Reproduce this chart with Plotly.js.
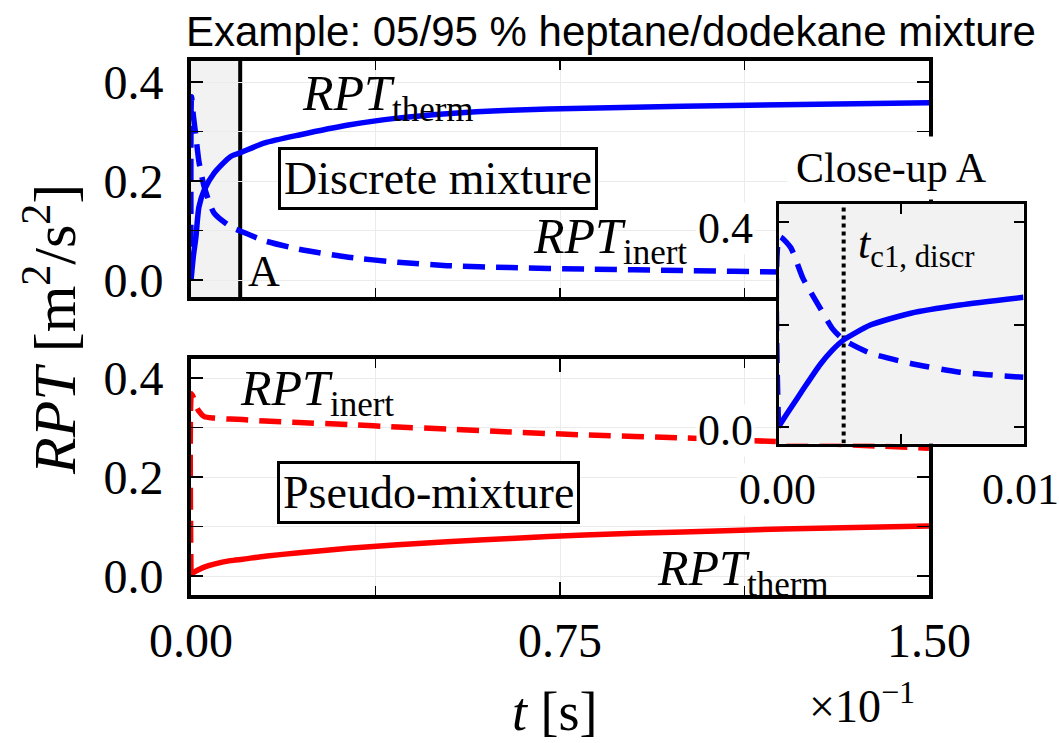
<!DOCTYPE html>
<html>
<head>
<meta charset="utf-8">
<script src="https://cdn.plot.ly/plotly-3.0.1.min.js"></script>
<style>html,body{margin:0;padding:0;background:#fff;}#chart{width:1059px;height:743px;}</style>
</head>
<body>
<div id="chart"></div>
<script>
// ---------------- data ----------------
const timeMain = [0, 0.001, 0.005, 0.01, 0.016, 0.027, 0.047, 0.08, 0.105, 0.15, 0.22, 0.32, 0.42, 0.52, 0.65, 0.8, 1.0, 1.2, 1.5];
const discreteTherm = [0, 0.01, 0.05, 0.087, 0.147, 0.182, 0.216, 0.249, 0.259, 0.277, 0.293, 0.313, 0.327, 0.336, 0.343, 0.347, 0.351, 0.354, 0.358];
const discreteInert = [0, 0.37, 0.33, 0.29, 0.24, 0.188, 0.135, 0.108, 0.097, 0.079, 0.062, 0.046, 0.036, 0.029, 0.025, 0.022, 0.019, 0.016, 0.013];
const pseudoTherm = [0, 0.003, 0.007, 0.010, 0.013, 0.018, 0.024, 0.031, 0.034, 0.040, 0.047, 0.056, 0.063, 0.069, 0.076, 0.083, 0.089, 0.095, 0.101];
const pseudoInert = [0, 0.368, 0.36, 0.345, 0.333, 0.322, 0.319, 0.317, 0.316, 0.313, 0.310, 0.306, 0.301, 0.297, 0.291, 0.285, 0.279, 0.271, 0.258];

const timeInset = [0, 0.00005, 0.0005, 0.001, 0.0017, 0.0022, 0.00266, 0.00375, 0.0054, 0.0074, 0.01];
const insetInert = [0, 0.371, 0.35, 0.29, 0.232, 0.192, 0.170, 0.144, 0.124, 0.107, 0.097];
const insetTherm = [0, 0.004, 0.037, 0.073, 0.122, 0.150, 0.170, 0.199, 0.222, 0.238, 0.253];

const closeUpEnd = 0.1;      // end of shaded region "A" [s]
const tc1Discr = 0.00266;    // t_c1,discr in close-up units

const xTickLabels = ['0.00', '0.75', '1.50'];
const xTickValues = [0, 0.75, 1.5];

// ---------------- layout helpers ----------------
const W = 1059, H = 743;
const fx = p => p / W;
const fy = p => 1 - p / H;
const SERIF = 'Liberation Serif, Times New Roman, serif';
const SANS = 'Liberation Sans, Arial, sans-serif';
const BLUE = '#0000ff', RED = '#ff0000';
const GRID = '#ebebeb';

const topY = [-(297 - 280) / 495, (280 - 61) / 495];
const botY = [-(595 - 576) / 495, (576 - 359) / 495];
const insY = [-(443.5 - 427) / 512.5, (427 - 203.5) / 512.5];

function mainX(anchor, labels) {
  return {
    domain: [fx(191), fx(929)], anchor: anchor, range: [0, 1.5],
    tickmode: 'array', tickvals: xTickValues, ticktext: labels ? xTickLabels : ['', '', ''],
    showticklabels: !!labels,
    ticks: 'inside', ticklen: 13, tickwidth: 2, tickcolor: '#000',
    minor: {dtick: 0.375, tick0: 0, ticks: 'inside', ticklen: 9, tickwidth: 1.5, tickcolor: '#000', showgrid: true, gridcolor: GRID, gridwidth: 1},
    showgrid: true, gridcolor: GRID, gridwidth: 1,
    showline: true, linecolor: '#000', linewidth: 4, mirror: 'allticks',
    zeroline: false,
    tickfont: {family: SERIF, size: 48, color: '#000'},
    ticklabelstandoff: 0
  };
}
function mainY(anchor, dom, rng) {
  return {
    domain: dom, anchor: anchor, range: rng,
    tickmode: 'linear', tick0: 0, dtick: 0.2, tickformat: '.1f',
    ticks: 'inside', ticklen: 12, tickwidth: 2, tickcolor: '#000',
    minor: {dtick: 0.1, tick0: 0, ticks: 'inside', ticklen: 12, tickwidth: 1.5, tickcolor: '#000', showgrid: true, gridcolor: GRID, gridwidth: 1},
    showgrid: true, gridcolor: GRID, gridwidth: 1,
    showline: true, linecolor: '#000', linewidth: 4, mirror: 'allticks',
    zeroline: false,
    tickfont: {family: SERIF, size: 48, color: '#000'},
    ticklabelstandoff: 14
  };
}

const SM = 0.6;
const traces = [
  {x: timeMain, y: discreteTherm, xaxis: 'x', yaxis: 'y', mode: 'lines', line: {color: BLUE, width: 5.5, shape: 'spline', smoothing: SM}, name: 'RPT therm (discrete)'},
  {x: timeMain, y: discreteInert, xaxis: 'x', yaxis: 'y', mode: 'lines', line: {color: BLUE, width: 5.5, dash: '22px,11px', shape: 'spline', smoothing: SM}, name: 'RPT inert (discrete)'},
  {x: timeMain, y: pseudoTherm, xaxis: 'x2', yaxis: 'y2', mode: 'lines', line: {color: RED, width: 5.5, shape: 'spline', smoothing: SM}, name: 'RPT therm (pseudo)'},
  {x: timeMain, y: pseudoInert, xaxis: 'x2', yaxis: 'y2', mode: 'lines', line: {color: RED, width: 5.5, dash: '22px,11px', shape: 'spline', smoothing: SM}, name: 'RPT inert (pseudo)'},
  {x: timeInset, y: insetTherm, xaxis: 'x3', yaxis: 'y3', mode: 'lines', line: {color: BLUE, width: 5.5, shape: 'spline', smoothing: SM}, name: 'close-up therm'},
  {x: timeInset, y: insetInert, xaxis: 'x3', yaxis: 'y3', mode: 'lines', line: {color: BLUE, width: 5.5, dash: '20px,12px', shape: 'spline', smoothing: SM}, name: 'close-up inert'}
];

function ann(text, x, y, size, opts) {
  return Object.assign({
    text: text, x: fx(x), y: fy(y), xref: 'paper', yref: 'paper',
    showarrow: false, xanchor: 'center', yanchor: 'middle',
    font: {family: SERIF, size: size, color: '#000'}
  }, opts || {});
}

const annotations = [
  ann('Example: 05/95 % heptane/dodekane mixture', 611, 31, 42, {font: {family: SANS, size: 42, color: '#000'}}),
  ann('<i>RPT</i><sub>therm</sub>', 300, 97, 50, {xanchor: 'left'}),
  ann('Discrete mixture', 438, 179, 46, {bgcolor: '#fff', bordercolor: '#000', borderwidth: 3, borderpad: 3}),
  ann('<i>RPT</i><sub>inert</sub>', 531, 240, 50, {xanchor: 'left'}),
  ann('A', 264, 272, 44),
  ann('<i>RPT</i><sub>inert</sub>', 238, 392, 50, {xanchor: 'left'}),
  ann('Pseudo-mixture', 428, 492, 46, {bgcolor: '#fff', bordercolor: '#000', borderwidth: 3, borderpad: 3}),
  ann('<i>RPT</i><sub>therm</sub>', 655, 572, 50, {xanchor: 'left'}),
  ann('Close-up A', 891, 168, 42, {bgcolor: '#fff', borderpad: 8}),
  ann('<i>t</i><sub>c1, discr</sub>', 856, 246, 44, {xanchor: 'left'}),
  ann('0.4', 725, 228, 44, {bgcolor: '#fff', borderpad: 1}),
  ann('0.0', 725, 431, 44, {bgcolor: '#fff', borderpad: 1}),
  ann('0.00', 777, 489, 44, {bgcolor: '#fff', borderpad: 1}),
  ann('0.01', 1020, 489, 44, {bgcolor: '#fff', borderpad: 1}),
  ann('×10<sup>−1</sup>', 862, 703, 46),
  ann('<i>RPT</i> [m<sup>2</sup>/s<sup>2</sup>]', 50, 330, 60, {textangle: -90}),
  ann('<i>t</i> [s]', 555, 712, 54)
];

const shapes = [
  {type: 'rect', xref: 'x', yref: 'y', x0: 0, x1: closeUpEnd, y0: topY[0], y1: topY[1], fillcolor: '#f2f2f2', line: {width: 0}, layer: 'below'},
  {type: 'line', xref: 'x', yref: 'y', x0: closeUpEnd, x1: closeUpEnd, y0: topY[0], y1: topY[1], line: {color: '#000', width: 4}, layer: 'below'},
  {type: 'rect', xref: 'x3', yref: 'y3', x0: 0, x1: 0.01, y0: insY[0], y1: insY[1], fillcolor: '#f2f2f2', line: {width: 0}, layer: 'below'},
  {type: 'line', xref: 'x3', yref: 'y3', x0: tc1Discr, x1: tc1Discr, y0: insY[0], y1: insY[1], line: {color: '#000', width: 4, dash: '4px,4px'}, layer: 'below'}
];

const layout = {
  width: W, height: H, autosize: false,
  margin: {l: 0, r: 0, t: 0, b: 0, pad: 0},
  paper_bgcolor: '#fff', plot_bgcolor: '#fff',
  showlegend: false,
  xaxis: mainX('y', false),
  yaxis: mainY('x', [fy(297), fy(61)], topY),
  xaxis2: mainX('y2', true),
  yaxis2: mainY('x2', [fy(595), fy(359)], botY),
  xaxis3: {
    domain: [fx(778.5), fx(1023.5)], anchor: 'y3', range: [0, 0.01],
    tickmode: 'linear', tick0: 0, dtick: 0.005, showticklabels: false,
    ticks: 'inside', ticklen: 10, tickwidth: 2, tickcolor: '#000',
    showgrid: false, zeroline: false,
    showline: true, linecolor: '#000', linewidth: 3, mirror: 'allticks'
  },
  yaxis3: {
    domain: [fy(443.5), fy(203.5)], anchor: 'x3', range: insY,
    tickmode: 'linear', tick0: 0, dtick: 0.2, showticklabels: false,
    ticks: 'inside', ticklen: 10, tickwidth: 2, tickcolor: '#000',
    showgrid: false, zeroline: false,
    showline: true, linecolor: '#000', linewidth: 3, mirror: 'allticks'
  },
  shapes: shapes,
  annotations: annotations
};

Plotly.newPlot('chart', traces, layout, {staticPlot: true, displayModeBar: false});
</script>
</body>
</html>
